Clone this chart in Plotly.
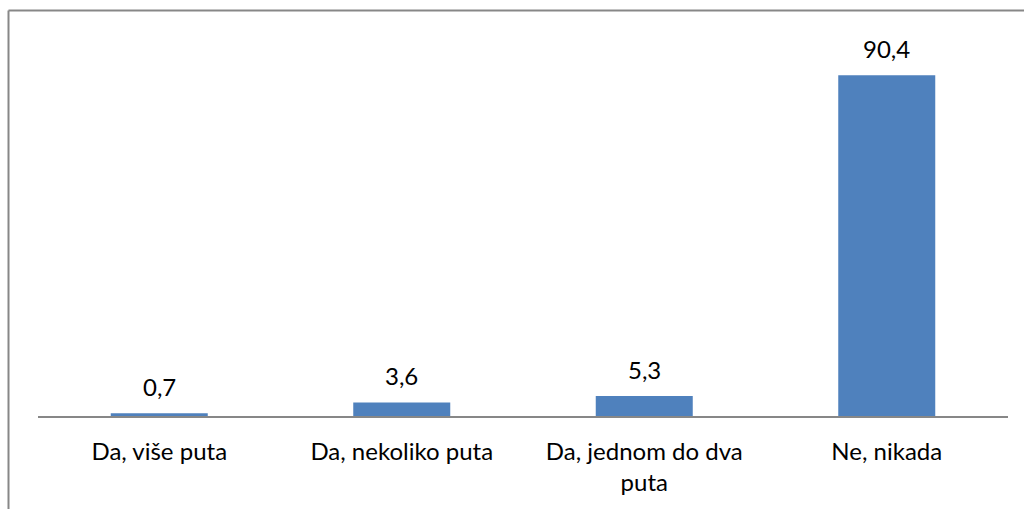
import plotly.graph_objects as go

# Survey answers and their shares (%)
categories = ["Da, više puta", "Da, nekoliko puta", "Da, jednom do dva<br>puta", "Ne, nikada"]
values = [0.7, 3.6, 5.3, 90.4]
value_labels = ["0,7", "3,6", "5,3", "90,4"]

FONT = "Lato"
FONT_SIZE = 24
BAR_COLOR = "#4F81BD"
LINE_COLOR = "#878787"

W, H = 1024, 509
M_L, M_R, M_T, M_B = 38, 16, 39, 93
plot_w = W - M_L - M_R
plot_h = H - M_T - M_B

fig = go.Figure(
    go.Bar(
        x=categories,
        y=values,
        marker=dict(color=BAR_COLOR, line=dict(width=0)),
        hoverinfo="skip",
    )
)

# value labels above each bar
for cat, val, lab in zip(categories, values, value_labels):
    fig.add_annotation(
        x=cat, y=val, text=lab, showarrow=False,
        yanchor="bottom", yshift=10,
        font=dict(family=FONT, size=FONT_SIZE, color="#000000"),
    )

# chart frame: top and left edges
def px_x(px):
    return (px - M_L) / plot_w

def px_y(py):
    return (H - M_B - py) / plot_h

fig.add_shape(type="line", xref="paper", yref="paper",
              x0=px_x(8.5), x1=px_x(1030), y0=px_y(10.5), y1=px_y(10.5),
              line=dict(color=LINE_COLOR, width=2))
fig.add_shape(type="line", xref="paper", yref="paper",
              x0=px_x(8.5), x1=px_x(8.5), y0=px_y(10.5), y1=px_y(520),
              line=dict(color=LINE_COLOR, width=2))

fig.update_layout(
    width=W, height=H,
    margin=dict(l=M_L, r=M_R, t=M_T, b=M_B),
    paper_bgcolor="white",
    plot_bgcolor="white",
    bargap=0.6,
    showlegend=False,
    font=dict(family=FONT, size=FONT_SIZE, color="#000000"),
    xaxis=dict(
        showline=True, linecolor=LINE_COLOR, linewidth=2,
        showgrid=False, zeroline=False, ticks="",
        tickfont=dict(family=FONT, size=FONT_SIZE, color="#000000"),
        ticklabelstandoff=13,
        fixedrange=True,
    ),
    yaxis=dict(
        range=[0, 100], visible=False, showgrid=False, zeroline=False,
        fixedrange=True,
    ),
)

fig.write_html("out.html", config={"displayModeBar": False})
